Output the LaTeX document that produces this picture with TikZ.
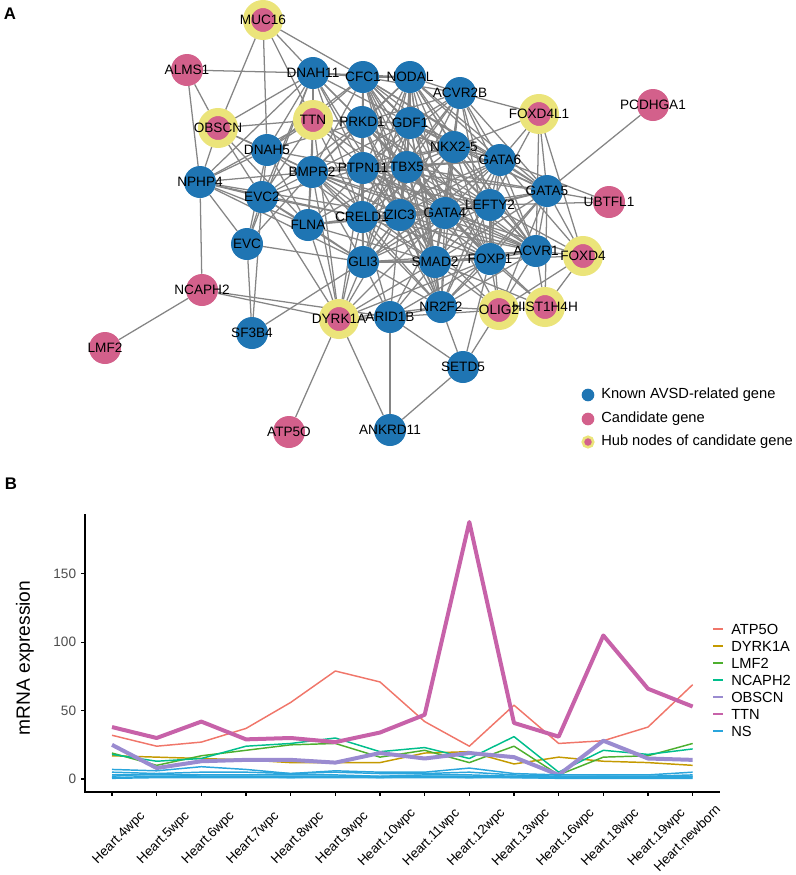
\documentclass[tikz,border=0pt]{standalone}
\usepackage{fontspec}
\setmainfont{Liberation Sans}
\usetikzlibrary{backgrounds}
\definecolor{knownblue}{HTML}{1F75B3}
\definecolor{candpink}{HTML}{D3608B}
\definecolor{hubyellow}{HTML}{EBE47A}
\definecolor{edgegray}{HTML}{858585}
\definecolor{tickgray}{HTML}{4D4D4D}
\definecolor{cATP}{HTML}{F0766A}
\definecolor{cDYRK}{HTML}{C49A00}
\definecolor{cLMF}{HTML}{4DAF2E}
\definecolor{cNCAPH}{HTML}{00BE8C}
\definecolor{cOBSCN}{HTML}{9A8BD0}
\definecolor{cTTN}{HTML}{C762A9}
\definecolor{cNS}{HTML}{2AA5DC}

\begin{document}
\begin{tikzpicture}[x=0.75pt,y=-0.75pt]
    \tikzset{
    known/.style={circle,fill=knownblue,minimum size=24pt,inner sep=0},
    cand/.style={circle,fill=candpink,minimum size=24pt,inner sep=0},
    hub/.style={circle,fill=candpink,draw=hubyellow,line width=6pt,minimum size=24pt,inner sep=0},
    glabel/.style={inner sep=0,font=\fontsize{10.2}{12}\selectfont},
    link/.style={draw=edgegray,line width=0.95pt},
    keytext/.style={anchor=west,inner sep=0,font=\fontsize{11}{13}\selectfont},
    panel/.style={inner sep=0,font=\fontsize{12.6}{14}\selectfont\bfseries},
    thin line/.style={line width=1.1pt,line join=round},
    thick line/.style={line width=3pt,line join=round}
    }
    \useasboundingbox (0,0) rectangle (796,875);

    % panel A: network
    \node[panel] (A) at (10,14) {A};
    \node[hub] (MUC16) at (263,20) {};
    \node[cand] (ALMS1) at (187,70) {};
    \node[known] (DNAH11) at (313,73) {};
    \node[known] (CFC1) at (363,77) {};
    \node[known] (NODAL) at (410,77) {};
    \node[known] (ACVR2B) at (460,93) {};
    \node[hub] (FOXD4L1) at (539,114) {};
    \node[cand] (PCDHGA1) at (653,105) {};
    \node[hub] (TTN) at (313,120) {};
    \node[hub] (OBSCN) at (218,128) {};
    \node[known] (PRKD1) at (362,122) {};
    \node[known] (GDF1) at (410,123) {};
    \node[known] (DNAH5) at (267,150) {};
    \node[known] (NKX2-5) at (454,147) {};
    \node[known] (GATA6) at (500,160) {};
    \node[known] (BMPR2) at (312,172) {};
    \node[known] (PTPN11) at (363,168) {};
    \node[known] (TBX5) at (407,167) {};
    \node[known] (NPHP4) at (200,182) {};
    \node[known] (GATA5) at (547,191) {};
    \node[cand] (UBTFL1) at (609,202) {};
    \node[known] (EVC2) at (262,197) {};
    \node[known] (LEFTY2) at (490,205) {};
    \node[known] (FLNA) at (308,225) {};
    \node[known] (CRELD1) at (362,217) {};
    \node[known] (ZIC3) at (400,215) {};
    \node[known] (GATA4) at (445,213) {};
    \node[known] (EVC) at (247,244) {};
    \node[known] (GLI3) at (363,262) {};
    \node[known] (SMAD2) at (435,262) {};
    \node[known] (FOXP1) at (490,259) {};
    \node[known] (ACVR1) at (536,251) {};
    \node[hub] (FOXD4) at (583,256) {};
    \node[cand] (NCAPH2) at (202,290) {};
    \node[hub] (DYRK1A) at (339,319) {};
    \node[known] (ARID1B) at (390,317) {};
    \node[known] (NR2F2) at (441,307) {};
    \node[hub] (OLIG2) at (499,310) {};
    \node[hub] (HIST1H4H) at (545,307) {};
    \node[known] (SF3B4) at (252,333) {};
    \node[cand] (LMF2) at (105,348) {};
    \node[known] (SETD5) at (463,367) {};
    \node[cand] (ATP5O) at (289,432) {};
    \node[known] (ANKRD11) at (390,430) {};

    \begin{scope}[on background layer]
    \path[link]
    (MUC16) edge (OBSCN) edge (DNAH5) edge (DNAH11) edge (TTN) edge (CFC1)
    (ALMS1) edge (DNAH11) edge (OBSCN) edge (NPHP4)
    (OBSCN) edge (TTN) edge (DNAH11) edge (DNAH5) edge (NPHP4) edge (EVC2) edge (FLNA) edge (BMPR2)
    (DNAH11) edge (CFC1) edge (TTN) edge (DNAH5) edge (EVC2) edge (NPHP4) edge (PRKD1) edge (NODAL) edge (GDF1) edge (BMPR2) edge (PTPN11) edge (ZIC3) edge (CRELD1) edge (TBX5) edge (EVC)
    (TTN) edge (DNAH5) edge (EVC2) edge (NPHP4) edge (PRKD1) edge (BMPR2) edge (FLNA) edge (CFC1) edge (GDF1) edge (PTPN11) edge (CRELD1) edge (GATA4) edge (TBX5) edge (DYRK1A)
    (DNAH5) edge (NPHP4) edge (EVC2) edge (EVC) edge (BMPR2) edge (PRKD1) edge (PTPN11) edge (CRELD1) edge (CFC1) edge (FLNA)
    (NPHP4) edge (EVC2) edge (EVC) edge (FLNA) edge (CRELD1) edge (NCAPH2) edge (GLI3) edge (ZIC3) edge (BMPR2)
    (EVC2) edge (EVC) edge (SF3B4) edge (FLNA) edge (BMPR2) edge (CRELD1) edge (PTPN11) edge (DYRK1A) edge (GLI3) edge (PRKD1)
    (EVC) edge (SF3B4) edge (GLI3) edge (BMPR2)
    (SF3B4) edge (GLI3)
    (NCAPH2) edge (LMF2) edge (DYRK1A) edge (ARID1B)
    (DYRK1A) edge (ATP5O) edge (ANKRD11) edge (ARID1B) edge (GLI3) edge (FLNA) edge (BMPR2) edge (CRELD1) edge (SMAD2) edge (ZIC3) edge (NR2F2) edge (GATA4) edge (FOXP1) edge (PTPN11)
    (ARID1B) edge (ANKRD11) edge (NR2F2) edge (SETD5) edge (OLIG2) edge (GLI3) edge (SMAD2) edge (ZIC3) edge (FOXP1) edge (GATA4) edge (CRELD1)
    (SETD5) edge (ANKRD11) edge (NR2F2) edge (OLIG2) edge (FOXP1)
    (PCDHGA1) edge (GATA5)
    (FOXD4L1) edge (ACVR2B) edge (GATA6) edge (GATA5) edge (FOXD4) edge (LEFTY2) edge (NKX2-5) edge (ACVR1)
    (UBTFL1) edge (GATA5) edge (LEFTY2) edge (GATA6)
    (FOXD4) edge (ACVR1) edge (GATA5) edge (FOXP1) edge (HIST1H4H) edge (OLIG2) edge (GATA6) edge (LEFTY2) edge (GATA4)
    (HIST1H4H) edge (ACVR1) edge (OLIG2) edge (FOXP1) edge (GATA5) edge (SMAD2) edge (GATA4)
    (OLIG2) edge (NR2F2) edge (FOXP1) edge (ACVR1) edge (SMAD2) edge (GATA4) edge (ZIC3) edge (GATA5) edge (LEFTY2)
    % dense core
    (CFC1) edge (NODAL) edge (ACVR2B) edge (PRKD1) edge (GDF1) edge (NKX2-5) edge (GATA6) edge (BMPR2) edge (PTPN11) edge (TBX5) edge (GATA5) edge (LEFTY2) edge (CRELD1) edge (ZIC3) edge (GATA4) edge (GLI3) edge (SMAD2) edge (FOXP1) edge (ACVR1) edge (NR2F2)
    (NODAL) edge (ACVR2B) edge (PRKD1) edge (GDF1) edge (NKX2-5) edge (GATA6) edge (BMPR2) edge (PTPN11) edge (TBX5) edge (GATA5) edge (LEFTY2) edge (CRELD1) edge (ZIC3) edge (GATA4) edge (GLI3) edge (SMAD2) edge (FOXP1) edge (ACVR1) edge (NR2F2)
    (ACVR2B) edge (PRKD1) edge (GDF1) edge (NKX2-5) edge (GATA6) edge (PTPN11) edge (TBX5) edge (GATA5) edge (LEFTY2) edge (CRELD1) edge (ZIC3) edge (GATA4) edge (SMAD2) edge (FOXP1) edge (ACVR1)
    (PRKD1) edge (GDF1) edge (NKX2-5) edge (GATA6) edge (BMPR2) edge (PTPN11) edge (TBX5) edge (LEFTY2) edge (CRELD1) edge (ZIC3) edge (GATA4) edge (GLI3) edge (SMAD2) edge (FOXP1) edge (ACVR1) edge (NR2F2)
    (GDF1) edge (NKX2-5) edge (GATA6) edge (BMPR2) edge (PTPN11) edge (TBX5) edge (GATA5) edge (LEFTY2) edge (CRELD1) edge (ZIC3) edge (GATA4) edge (GLI3) edge (SMAD2) edge (FOXP1) edge (ACVR1) edge (NR2F2)
    (NKX2-5) edge (GATA6) edge (BMPR2) edge (PTPN11) edge (TBX5) edge (GATA5) edge (LEFTY2) edge (CRELD1) edge (ZIC3) edge (GATA4) edge (GLI3) edge (SMAD2) edge (FOXP1) edge (ACVR1) edge (NR2F2)
    (GATA6) edge (BMPR2) edge (PTPN11) edge (TBX5) edge (GATA5) edge (LEFTY2) edge (CRELD1) edge (ZIC3) edge (GATA4) edge (GLI3) edge (SMAD2) edge (FOXP1) edge (ACVR1) edge (NR2F2)
    (BMPR2) edge (PTPN11) edge (TBX5) edge (LEFTY2) edge (CRELD1) edge (ZIC3) edge (GATA4) edge (GLI3) edge (SMAD2) edge (FOXP1) edge (ACVR1) edge (NR2F2) edge (FLNA)
    (PTPN11) edge (TBX5) edge (GATA5) edge (LEFTY2) edge (CRELD1) edge (ZIC3) edge (GATA4) edge (GLI3) edge (SMAD2) edge (FOXP1) edge (ACVR1) edge (NR2F2) edge (FLNA)
    (TBX5) edge (GATA5) edge (LEFTY2) edge (CRELD1) edge (ZIC3) edge (GATA4) edge (GLI3) edge (SMAD2) edge (FOXP1) edge (ACVR1) edge (NR2F2) edge (FLNA)
    (GATA5) edge (LEFTY2) edge (ZIC3) edge (GATA4) edge (SMAD2) edge (FOXP1) edge (ACVR1) edge (NR2F2)
    (LEFTY2) edge (CRELD1) edge (ZIC3) edge (GATA4) edge (GLI3) edge (SMAD2) edge (FOXP1) edge (ACVR1) edge (NR2F2)
    (CRELD1) edge (ZIC3) edge (GATA4) edge (GLI3) edge (SMAD2) edge (FOXP1) edge (ACVR1) edge (NR2F2) edge (FLNA)
    (ZIC3) edge (GATA4) edge (GLI3) edge (SMAD2) edge (FOXP1) edge (ACVR1) edge (NR2F2) edge (FLNA)
    (GATA4) edge (GLI3) edge (SMAD2) edge (FOXP1) edge (ACVR1) edge (NR2F2) edge (FLNA)
    (GLI3) edge (SMAD2) edge (FOXP1) edge (ACVR1) edge (NR2F2) edge (FLNA)
    (SMAD2) edge (FOXP1) edge (ACVR1) edge (NR2F2) edge (FLNA)
    (FOXP1) edge (ACVR1) edge (NR2F2)
    (ACVR1) edge (NR2F2)
    ;
    \end{scope}

    \foreach \g in {MUC16,ALMS1,DNAH11,CFC1,NODAL,ACVR2B,FOXD4L1,PCDHGA1,TTN,OBSCN,PRKD1,GDF1,DNAH5,NKX2-5,GATA6,BMPR2,PTPN11,TBX5,NPHP4,GATA5,UBTFL1,EVC2,LEFTY2,FLNA,CRELD1,ZIC3,GATA4,EVC,GLI3,SMAD2,FOXP1,ACVR1,FOXD4,NCAPH2,DYRK1A,ARID1B,NR2F2,OLIG2,HIST1H4H,SF3B4,LMF2,SETD5,ATP5O,ANKRD11}
        \node[glabel] (\g-t) at (\g) {\g};

    % legend A
    \node[known,minimum size=9.5pt] (key1) at (588,395) {};
    \node[keytext] (key1-t) at (601,395) {Known AVSD-related gene};
    \node[cand,minimum size=9.5pt] (key2) at (588,419) {};
    \node[keytext] (key2-t) at (601,419) {Candidate gene};
    \node[hub,minimum size=7.9pt,line width=1.9pt] (key3) at (588,442) {};
    \node[keytext] (key3-t) at (601,442) {Hub nodes of candidate gene};

    % panel B: expression
    \node[panel] (B) at (11,484) {B};
    \draw[line width=0.9pt] (85,514) -- (85,792) -- (720,792);
    \node[rotate=90,inner sep=0,font=\fontsize{14.4}{16}\selectfont] (ylab) at (25,658) {mRNA expression};

    \begin{scope}[shift={(112,779)},x=33.5pt,y=1.0253pt]
    \foreach \v in {0,50,100,150} {
        \draw[line width=0.8pt] (-0.604,\v) -- ++(-3pt,0);
        \node[anchor=east,inner sep=0,text=tickgray,font=\fontsize{10.2}{12}\selectfont] (tick\v) at ([xshift=-6.5pt]-0.604,\v) {\v};
    }
    \foreach \lab/\dx [count=\i from 0] in {Heart.4wpc/0.16,Heart.5wpc/0.16,Heart.6wpc/0.16,Heart.7wpc/0.16,Heart.8wpc/0.16,Heart.9wpc/0.16,Heart.10wpc/0.16,Heart.11wpc/0.16,Heart.12wpc/0.16,Heart.13wpc/0.16,Heart.16wpc/0.16,Heart.18wpc/0.16,Heart.19wpc/0.2,Heart.newborn/-0.13} {
        \draw[line width=0.8pt] (\i,-9.5) -- ++(0,-3pt);
        \node[rotate=45,inner sep=0,font=\fontsize{10}{12}\selectfont] (xl\i) at (\i+\dx,-43.2) {\lab};
    }
    \draw[cATP,thin line] plot coordinates {(0,32) (1,24) (2,27) (3,37) (4,56) (5,79) (6,71) (7,42) (8,24) (9,54) (10,26) (11,28) (12,38) (13,69)};
    \draw[cDYRK,thin line] plot coordinates {(0,17) (1,16) (2,15) (3,14) (4,12) (5,12) (6,12) (7,19) (8,20) (9,11) (10,16) (11,13) (12,12) (13,10)};
    \draw[cLMF,thin line] plot coordinates {(0,19) (1,10) (2,17) (3,21) (4,25) (5,26) (6,16) (7,21) (8,12) (9,24) (10,3) (11,16) (12,17) (13,26)};
    \draw[cNCAPH,thin line] plot coordinates {(0,18) (1,13) (2,15) (3,24) (4,26) (5,30) (6,20) (7,23) (8,15) (9,31) (10,5) (11,21) (12,18) (13,22)};
    \draw[cOBSCN,thick line] plot coordinates {(0,25) (1,8) (2,13) (3,14) (4,14) (5,12) (6,19) (7,15) (8,19) (9,16) (10,3) (11,28) (12,15) (13,14)};
    \draw[cTTN,thick line] plot coordinates {(0,38) (1,30) (2,42) (3,29) (4,30) (5,27) (6,34) (7,47) (8,188) (9,41) (10,31) (11,105) (12,66) (13,53)};
    % NS genes
    \draw[cNS,thin line] plot coordinates {(0,7) (1,6) (2,9) (3,7) (4,4) (5,6) (6,5) (7,5) (8,8) (9,4) (10,3) (11,3) (12,3) (13,5)};
    \draw[cNS,thin line] plot coordinates {(0,5) (1,4) (2,5) (3,5) (4,4) (5,5) (6,4) (7,4) (8,5) (9,3) (10,2) (11,2) (12,2) (13,3)};
    \draw[cNS,thin line] plot coordinates {(0,3) (1,3) (2,3) (3,3) (4,3) (5,3) (6,2) (7,3) (8,3) (9,2) (10,2) (11,2) (12,2) (13,2)};
    \draw[cNS,thin line] plot coordinates {(0,1) (1,2) (2,2) (3,2) (4,2) (5,2) (6,2) (7,2) (8,2) (9,1) (10,1) (11,1) (12,1) (13,1)};
    \draw[cNS,thin line] plot coordinates {(0,0.5) (1,1) (2,1) (3,1) (4,1) (5,1) (6,1) (7,1) (8,1) (9,1) (10,0.5) (11,0.5) (12,0.5) (13,0.5)};
    \draw[cNS,thin line] plot coordinates {(0,2) (1,4) (2,2) (3,2) (4,1) (5,2) (6,1) (7,2) (8,1) (9,2) (10,1) (11,2) (12,1) (13,2)};
    \end{scope}

    % legend B
    \foreach \name/\col [count=\k from 0] in {ATP5O/cATP,DYRK1A/cDYRK,LMF2/cLMF,NCAPH2/cNCAPH,OBSCN/cOBSCN,TTN/cTTN,NS/cNS} {
        \draw[\col,line width=1.1pt] (713,629+17*\k) -- (723,629+17*\k);
        \node[anchor=west,inner sep=0,font=\fontsize{11}{13}\selectfont] (leg\k) at (731,629+17*\k) {\name};
    }
\end{tikzpicture}
\end{document}
